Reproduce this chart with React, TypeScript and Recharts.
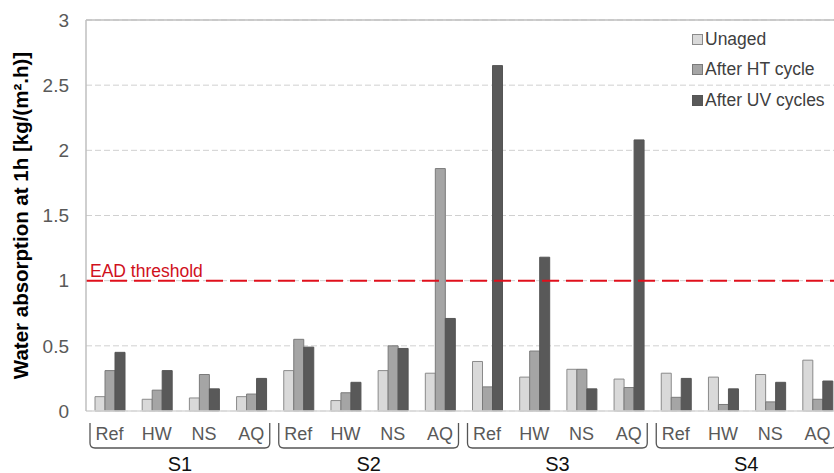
import { BarChart, Bar, XAxis, YAxis, CartesianGrid, Legend, ReferenceLine } from 'recharts';

const groups = ['S1', 'S2', 'S3', 'S4'];
const treatments = ['Ref', 'HW', 'NS', 'AQ'];

// values per group, in order Ref, HW, NS, AQ
const unaged = [0.11, 0.09, 0.10, 0.11, 0.31, 0.08, 0.31, 0.29, 0.38, 0.26, 0.32, 0.245, 0.29, 0.26, 0.28, 0.39];
const afterHT = [0.31, 0.16, 0.28, 0.13, 0.55, 0.14, 0.50, 1.86, 0.185, 0.46, 0.32, 0.18, 0.105, 0.05, 0.07, 0.09];
const afterUV = [0.45, 0.31, 0.17, 0.25, 0.49, 0.22, 0.48, 0.71, 2.65, 1.18, 0.17, 2.08, 0.25, 0.17, 0.22, 0.23];

const yTicks = [0, 0.5, 1, 1.5, 2, 2.5, 3];

const chartData = unaged.map((u, i) => ({
  key: `${groups[Math.floor(i / 4)]}-${treatments[i % 4]}`,
  unaged: u,
  ht: afterHT[i],
  uv: afterUV[i],
}));

const FONT = '"Liberation Sans", Arial, sans-serif';
const PLOT_LEFT = 86;
const PLOT_BOTTOM = 411;
const CHART_W = 841;
const BAND = (CHART_W - PLOT_LEFT) / chartData.length;

const series = [
  { key: 'unaged', name: 'Unaged', fill: '#d9d9d9', stroke: '#8a8a8a' },
  { key: 'ht', name: 'After HT cycle', fill: '#a5a5a5', stroke: '#7a7a7a' },
  { key: 'uv', name: 'After UV cycles', fill: '#595959', stroke: '#555555' },
];

function CategoryTick(props: any) {
  const { x, index } = props;
  const label = treatments[index % 4];
  const parts = [
    <text key="t" x={x} y={PLOT_BOTTOM + 29} textAnchor="middle" fontSize={18} fill="#595959" fontFamily={FONT}>
      {label}
    </text>,
  ];
  if (index % 4 === 0) {
    const g = Math.floor(index / 4);
    const left = PLOT_LEFT + g * 4 * BAND + 4;
    const right = PLOT_LEFT + (g + 1) * 4 * BAND - 5;
    const top = PLOT_BOTTOM + 12;
    const bot = PLOT_BOTTOM + 37;
    const r = 5;
    parts.push(
      <path
        key="b"
        d={`M${left},${top} L${left},${bot - r} Q${left},${bot} ${left + r},${bot} L${right - r},${bot} Q${right},${bot} ${right},${bot - r} L${right},${top}`}
        fill="none"
        stroke="#555"
        strokeWidth={1.3}
      />,
      <text key="g" x={(left + right) / 2} y={PLOT_BOTTOM + 60} textAnchor="middle" fontSize={20} fill="#111" fontFamily={FONT}>
        {groups[g]}
      </text>
    );
  }
  return <g>{parts}</g>;
}

function LegendBox() {
  return (
    <div style={{ fontFamily: FONT, fontSize: 17.5, color: '#404040' }}>
      {series.map((s) => (
        <div key={s.key} style={{ display: 'flex', alignItems: 'center', height: 30.5 }}>
          <span
            style={{
              display: 'inline-block',
              width: 9,
              height: 9,
              background: s.fill,
              border: `1px solid ${s.stroke}`,
              marginRight: 2,
            }}
          />
          {s.name}
        </div>
      ))}
    </div>
  );
}

export default function App() {
  return (
    <div style={{ position: 'absolute', left: 0, top: 0, width: 834, height: 473, overflow: 'hidden', background: '#fff' }}>
      <BarChart
        width={CHART_W}
        height={473}
        data={chartData}
        margin={{ top: 20, right: 0, left: 1, bottom: 0 }}
        barSize={10}
        barGap={0}
      >
        <CartesianGrid vertical={false} stroke="#d0d0d0" strokeDasharray="6 3" />
        <XAxis
          dataKey="key"
          height={62}
          interval={0}
          tickLine={false}
          axisLine={{ stroke: '#d9d9d9', strokeWidth: 1.5 }}
          tick={(p: any) => <CategoryTick {...p} />}
        />
        <YAxis
          width={85}
          domain={[0, 3]}
          ticks={yTicks}
          tickLine={false}
          axisLine={{ stroke: '#bfbfbf', strokeWidth: 1.5 }}
          tick={{ fontSize: 19, fill: '#595959', fontFamily: FONT }}
          tickMargin={11}
          label={{
            value: 'Water absorption at 1h [kg/(m².h)]',
            angle: -90,
            position: 'insideLeft',
            offset: 20,
            style: { textAnchor: 'middle', fontSize: 20.5, fontWeight: 'bold', fill: '#000', fontFamily: FONT },
          }}
        />
        <ReferenceLine y={3} stroke="#bfbfbf" strokeWidth={1.5} />
        {series.map((s) => (
          <Bar
            key={s.key}
            dataKey={s.key}
            name={s.name}
            fill={s.fill}
            stroke={s.stroke}
            strokeWidth={1}
            isAnimationActive={false}
          />
        ))}
        <ReferenceLine
          y={1}
          stroke="#e0101c"
          strokeWidth={2}
          strokeDasharray="17 7"
          label={{
            value: 'EAD threshold',
            position: 'insideBottomLeft',
            offset: 4,
            fill: '#d0101c',
            fontSize: 17.5,
            fontFamily: FONT,
          }}
        />
        <Legend
          layout="horizontal"
          verticalAlign="middle"
          align="center"
          wrapperStyle={{ top: 24, left: 692, width: 150 }}
          content={() => <LegendBox />}
        />
      </BarChart>
    </div>
  );
}
